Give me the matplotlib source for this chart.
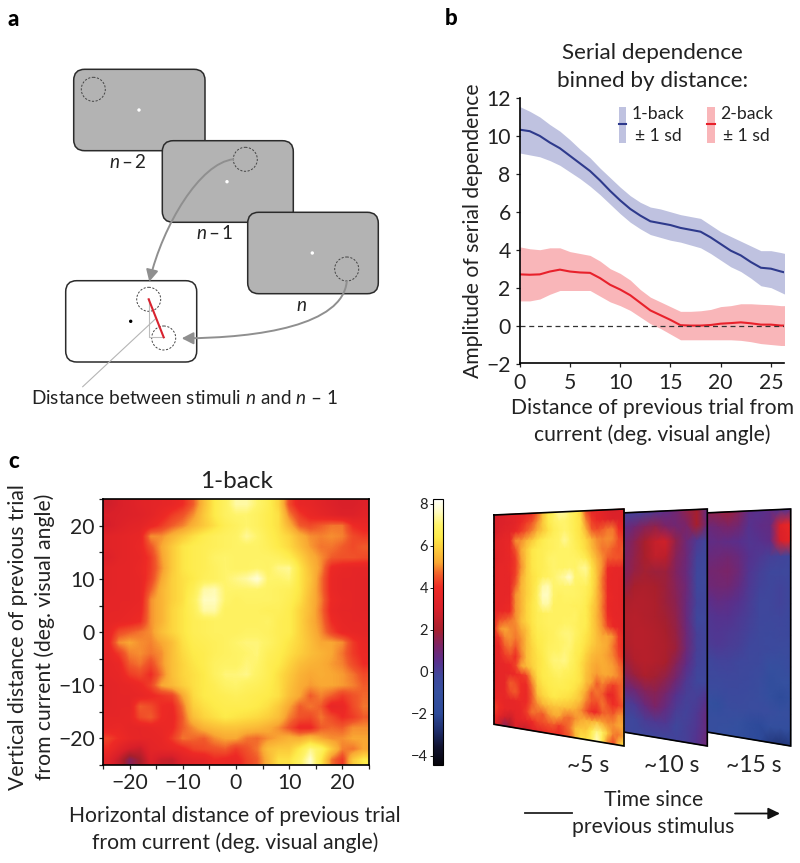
import matplotlib
matplotlib.use("Agg")
import matplotlib.pyplot as plt
import numpy as np
from matplotlib.colors import LinearSegmentedColormap, Normalize
from matplotlib.patches import Circle, FancyArrowPatch, FancyBboxPatch, Rectangle
from matplotlib.path import Path
from matplotlib.cm import ScalarMappable

plt.rcParams['font.family'] = ['Lato', 'DejaVu Sans']
plt.rcParams['mathtext.fontset'] = 'custom'
plt.rcParams['mathtext.rm'] = 'Lato'
plt.rcParams['mathtext.it'] = 'Lato:italic'

FIG_W = 800
FIG_H = 863
TEXT_COLOUR = '#222222'
FS = 15.2
FS_A = 13.6

# panel b
DISTANCE = [0, 1, 2, 3, 4, 5, 6, 7, 8, 9, 10, 11, 12, 13, 14, 15, 16, 17, 18, 19, 20, 21, 22, 23, 24, 25, 26, 26.4]
BACK1_MEAN = [10.33, 10.25, 10.0, 9.65, 9.35, 8.95, 8.55, 8.15, 7.65, 7.1, 6.6, 6.15, 5.8, 5.5, 5.4, 5.3, 5.15, 5.05, 4.95, 4.65, 4.3, 3.95, 3.7, 3.35, 3.05, 3.0, 2.85, 2.8]
BACK1_UPPER = [11.55, 11.3, 11.0, 10.6, 10.25, 9.8, 9.3, 8.85, 8.3, 7.8, 7.3, 6.85, 6.5, 6.25, 6.15, 6.0, 5.85, 5.75, 5.65, 5.3, 4.95, 4.7, 4.45, 4.2, 3.95, 3.95, 3.85, 3.8]
BACK1_LOWER = [9.1, 9.0, 8.9, 8.7, 8.45, 8.1, 7.75, 7.35, 6.9, 6.4, 5.9, 5.45, 5.1, 4.8, 4.65, 4.5, 4.4, 4.25, 4.1, 3.8, 3.45, 3.1, 2.85, 2.5, 2.1, 2.0, 1.75, 1.65]
BACK2_MEAN = [2.7, 2.68, 2.7, 2.85, 2.95, 2.85, 2.8, 2.78, 2.5, 2.15, 1.9, 1.6, 1.2, 0.8, 0.55, 0.3, 0.02, 0, 0, 0.03, 0.1, 0.13, 0.17, 0.12, 0.05, 0.05, 0, 0]
BACK2_UPPER = [4.15, 4.05, 4.0, 4.1, 4.1, 3.9, 3.8, 3.7, 3.4, 3.0, 2.75, 2.4, 1.9, 1.5, 1.25, 1.0, 0.75, 0.75, 0.78, 0.85, 1.0, 1.05, 1.15, 1.15, 1.12, 1.1, 1.05, 1.05]
BACK2_LOWER = [1.3, 1.3, 1.4, 1.65, 1.85, 1.85, 1.85, 1.85, 1.55, 1.25, 1.05, 0.8, 0.45, 0.1, -0.15, -0.45, -0.75, -0.75, -0.75, -0.75, -0.75, -0.75, -0.78, -0.85, -0.95, -1.0, -1.05, -1.05]

# panel c, 1-back map, rows from the top (+24) down, columns -24 to 24 in steps of 2
MAP_1BACK = [
    [2.8, 3.0, 3.2, 3.4, 3.5, 3.6, 3.7, 4.0, 4.6, 5.6, 6.4, 6.8, 7.4, 7.4, 7.0, 6.6, 6.0, 4.4, 3.7, 3.6, 3.4, 3.2, 3.0, 3.0, 3.2],
    [3.0, 3.1, 3.2, 3.3, 3.5, 3.8, 4.2, 4.5, 5.0, 5.8, 6.4, 6.8, 7.0, 7.0, 6.8, 6.5, 6.2, 4.9, 4.2, 3.8, 3.6, 3.4, 3.2, 3.2, 3.4],
    [2.9, 3.2, 3.4, 3.5, 3.8, 4.2, 4.6, 4.9, 5.4, 5.8, 6.2, 6.6, 6.8, 7.0, 6.8, 6.5, 6.2, 5.4, 4.6, 4.4, 4.6, 4.8, 4.8, 4.0, 3.8],
    [3.4, 3.5, 3.6, 3.7, 5.0, 5.0, 5.4, 5.8, 6.2, 6.5, 6.7, 6.8, 6.9, 7.3, 7.0, 6.6, 6.3, 6.0, 5.4, 5.0, 4.9, 5.0, 4.9, 4.4, 4.2],
    [3.4, 3.5, 3.6, 3.8, 4.5, 5.2, 5.8, 6.3, 6.5, 6.6, 6.7, 6.8, 6.9, 6.9, 6.9, 6.7, 6.4, 6.1, 5.6, 5.1, 4.8, 4.8, 4.6, 4.4, 4.6],
    [3.2, 3.5, 3.6, 3.7, 4.2, 5.1, 5.8, 6.3, 6.5, 6.6, 6.9, 7.0, 6.9, 6.9, 6.9, 6.9, 6.8, 6.5, 6.0, 5.4, 5.0, 4.6, 4.5, 4.5, 4.4],
    [3.5, 3.6, 3.6, 3.8, 4.2, 5.0, 5.8, 6.3, 6.5, 6.6, 6.8, 7.0, 6.9, 6.9, 7.0, 6.9, 7.2, 7.3, 6.3, 5.6, 5.0, 3.9, 3.7, 3.6, 3.6],
    [3.5, 3.6, 3.6, 3.7, 4.3, 5.2, 5.9, 6.2, 6.4, 6.7, 6.8, 7.0, 7.2, 7.4, 7.8, 7.0, 7.0, 7.1, 6.3, 5.7, 4.8, 3.8, 3.6, 3.6, 3.5],
    [3.5, 3.6, 3.6, 3.7, 4.6, 5.4, 5.9, 6.2, 6.6, 7.4, 7.5, 7.0, 7.0, 7.0, 7.0, 6.9, 6.8, 6.7, 6.3, 5.6, 4.8, 3.8, 3.6, 3.6, 3.5],
    [3.6, 3.6, 3.6, 3.7, 5.0, 5.4, 5.9, 6.2, 6.8, 7.6, 7.6, 7.0, 6.8, 6.9, 6.9, 6.9, 6.8, 6.6, 6.2, 5.5, 4.9, 3.9, 3.7, 3.6, 3.5],
    [3.6, 3.6, 3.7, 3.8, 5.0, 5.4, 6.0, 6.3, 6.7, 7.4, 7.4, 6.8, 6.8, 6.8, 6.8, 6.7, 6.7, 6.5, 6.0, 5.5, 4.8, 3.8, 3.6, 3.6, 3.5],
    [3.6, 3.7, 3.8, 4.0, 5.0, 5.4, 6.0, 6.3, 6.6, 6.7, 6.8, 6.8, 6.8, 6.8, 6.8, 6.9, 6.6, 6.5, 6.0, 5.4, 4.9, 4.0, 3.7, 3.6, 3.6],
    [3.7, 4.4, 4.6, 4.8, 5.0, 5.6, 6.0, 6.3, 6.6, 6.7, 6.8, 6.8, 6.8, 6.9, 6.9, 6.8, 6.6, 6.5, 6.0, 5.5, 5.0, 4.3, 3.8, 3.7, 3.6],
    [3.8, 5.0, 5.2, 5.0, 4.9, 5.2, 5.6, 6.2, 6.5, 6.6, 6.7, 6.8, 7.0, 7.1, 7.1, 6.9, 6.6, 6.3, 6.0, 5.6, 5.2, 5.2, 5.0, 4.2, 3.8],
    [3.7, 4.2, 4.9, 5.0, 4.8, 5.0, 5.6, 6.1, 6.4, 6.5, 6.7, 6.8, 6.9, 7.0, 7.1, 6.7, 6.5, 6.2, 5.9, 5.6, 5.4, 5.2, 4.8, 4.2, 3.9],
    [3.6, 3.8, 4.6, 4.8, 4.4, 5.0, 5.6, 6.0, 6.3, 6.5, 6.8, 6.9, 6.9, 7.1, 7.0, 6.6, 6.4, 6.0, 5.6, 5.4, 5.3, 5.1, 4.9, 4.4, 4.0],
    [3.6, 3.7, 4.2, 4.4, 4.0, 4.8, 5.6, 6.0, 6.2, 6.4, 6.8, 7.1, 7.1, 7.2, 6.9, 6.6, 6.2, 5.8, 5.4, 5.2, 5.3, 5.2, 5.1, 4.8, 4.4],
    [3.5, 3.6, 3.7, 3.9, 4.3, 5.2, 5.5, 5.9, 6.2, 6.4, 6.6, 6.9, 7.0, 6.8, 6.7, 6.5, 6.2, 5.7, 5.3, 5.1, 5.2, 5.2, 5.1, 4.9, 4.6],
    [3.5, 3.6, 3.6, 3.7, 3.9, 4.1, 4.3, 5.2, 6.1, 6.4, 6.5, 6.6, 6.7, 6.6, 6.5, 6.4, 6.2, 5.6, 5.2, 4.6, 4.9, 4.6, 4.2, 4.5, 4.7],
    [3.5, 3.6, 3.6, 4.6, 4.4, 4.0, 3.9, 4.8, 5.9, 6.2, 6.4, 6.5, 6.5, 6.5, 6.4, 6.2, 5.8, 5.2, 4.6, 4.8, 4.6, 3.7, 3.8, 4.4, 4.8],
    [3.6, 3.6, 3.7, 4.4, 4.6, 4.0, 3.8, 4.6, 5.6, 6.0, 6.2, 6.4, 6.3, 6.2, 6.1, 5.9, 5.6, 4.9, 4.5, 4.4, 4.8, 4.4, 4.0, 4.2, 4.6],
    [3.7, 3.8, 3.6, 3.6, 3.7, 3.8, 3.9, 4.6, 5.0, 5.4, 5.6, 5.7, 5.7, 5.6, 5.5, 5.3, 5.0, 4.5, 3.9, 3.9, 4.6, 4.7, 4.6, 5.0, 5.0],
    [4.3, 4.0, 3.7, 3.6, 3.6, 3.7, 4.2, 4.8, 4.7, 4.6, 5.0, 5.2, 5.2, 4.8, 4.7, 5.0, 5.2, 5.4, 5.3, 5.6, 5.2, 5.0, 5.0, 5.2, 5.2],
    [4.0, 3.4, 2.9, 2.7, 3.5, 3.6, 3.7, 3.9, 4.3, 4.4, 4.5, 4.6, 4.2, 4.5, 4.8, 5.6, 5.8, 5.8, 6.4, 7.2, 6.8, 5.8, 4.9, 4.8, 5.2],
    [3.4, 2.6, 1.4, 2.0, 3.2, 2.7, 2.6, 3.3, 3.5, 3.6, 4.0, 3.9, 3.8, 4.3, 4.6, 5.4, 6.2, 6.2, 6.8, 7.7, 6.4, 4.8, 4.2, 5.8, 6.4],
]

# visible right part of the ~10 s and ~15 s slices
MAP_10S = [
    [0.0, -0.1, 0.0, 0.3, 0.6, 1.0, 1.6, 2.0, 0.6],
    [0.6, 1.0, 1.4, 1.6, 1.2, 1.0, 1.2, 2.0, 0.8],
    [1.0, 1.5, 2.0, 2.6, 2.8, 1.6, 0.9, 0.2, -0.2],
    [1.2, 1.6, 2.0, 2.5, 2.4, 1.4, 0.9, -0.1, -0.3],
    [1.3, 1.7, 1.9, 1.8, 1.8, 1.3, 0.8, -0.2, -0.3],
    [1.6, 2.0, 2.1, 2.0, 1.8, 1.4, 0.9, -0.2, -0.3],
    [2.0, 2.2, 2.2, 2.1, 1.8, 1.5, 0.8, -0.1, -0.2],
    [2.2, 2.3, 2.2, 2.1, 1.9, 1.6, 0.8, -0.2, -0.2],
    [2.2, 2.3, 2.3, 2.2, 2.0, 1.7, 0.9, 0.0, -0.2],
    [2.1, 2.3, 2.3, 2.2, 2.1, 1.8, 0.9, 0.0, -0.2],
    [1.8, 2.2, 2.3, 2.2, 2.0, 1.4, 0.6, -0.1, -0.2],
    [1.4, 1.8, 2.1, 1.9, 1.6, 1.0, 0.2, -0.2, -0.2],
    [0.8, 1.0, 1.4, 1.5, 1.1, 0.4, 0.0, 0.0, 0.4],
    [0.0, 0.2, 0.8, 1.2, 0.7, 0.1, -0.1, 0.2, 0.8],
    [-0.2, -0.2, 0.1, 0.2, 0.2, -0.2, 0.0, 0.3, 0.8],
    [-0.2, -0.3, -0.3, -0.2, -0.2, -0.1, 0.0, 0.4, 1.0],
]
MAP_15S = [
    [1.5, 1.6, 1.8, 1.4, 0.6, 0.4, 0.6, 0.3, 0.4],
    [0.8, 1.0, 1.2, 1.0, 0.4, 0.6, 0.7, 3.2, 3.8],
    [0.6, 0.7, 0.6, 0.5, 0.3, 0.4, 0.6, 3.0, 3.6],
    [0.8, 0.9, 1.0, 0.8, 0.4, 0.2, 0.0, -0.1, -0.2],
    [1.0, 1.1, 1.2, 0.9, 0.3, 0.0, -0.2, -0.3, -0.3],
    [0.9, 1.0, 1.0, 0.7, 0.2, -0.1, -0.2, -0.1, -0.3],
    [0.5, 0.7, 0.6, 0.4, 0.1, -0.2, -0.2, -0.1, -0.3],
    [0.3, 0.4, 0.4, 0.2, 0.0, -0.2, -0.3, -0.2, -0.4],
    [0.2, 0.3, 0.2, 0.1, -0.1, -0.3, -0.4, -0.3, -0.4],
    [0.1, 0.2, 0.1, 0.0, -0.2, -0.3, -0.4, -0.5, -0.5],
    [-0.2, -0.1, -0.1, -0.2, -0.3, -0.4, -0.9, -0.8, -0.6],
    [-0.3, -0.3, -0.2, -0.3, -0.4, -0.6, -1.4, -1.0, -1.0],
    [-0.5, -0.5, -0.4, -0.4, -0.5, -0.7, -1.2, -1.9, -1.2],
    [-1.0, -1.4, -0.6, -0.5, -0.6, -0.6, -0.7, -0.9, -0.8],
    [-0.8, -0.8, -0.8, -1.0, -1.6, -2.0, -1.2, -1.3, -1.2],
    [-0.8, -0.9, -1.0, -1.2, -1.6, -2.0, -2.4, -2.6, -2.4],
]

CBAR_TICKS = [-4, -2, 0, 2, 4, 6, 8]
BACK_TICKS = [-20, -10, 0, 10, 20]
SLICE_LABELS = ['~5 s', '~10 s', '~15 s']

VMIN = -4.45
VMAX = 8.2
CMAP_STOPS = [(-4.45, '#05040a'), (-3.6, '#10122e'), (-2.9, '#1c2a66'), (-2.0, '#2d4a9a'), (-1.0, '#35509f'),
              (-0.2, '#3f479c'), (0.5, '#5a2f8c'), (1.2, '#7b2468'), (2.0, '#a81f2c'), (3.0, '#d9202a'),
              (4.0, '#ee2a25'), (4.6, '#f15a2a'), (5.2, '#f9a833'), (6.0, '#fdd43e'), (6.4, '#feeb4a'),
              (7.0, '#fff46a'), (7.6, '#fffcc0'), (8.2, '#ffffff')]


def ax_box(x0, y0, x1, y1):
    # pixel box from the top left corner to a figure axes
    return fig.add_axes([x0 / FIG_W, 1 - y1 / FIG_H, (x1 - x0) / FIG_W, (y1 - y0) / FIG_H])


def card(x0, y0, x1, y1, face):
    pad = 11
    canvas.add_patch(FancyBboxPatch((x0 + pad, y0 + pad), x1 - x0 - 2 * pad, y1 - y0 - 2 * pad,
                                    boxstyle='round,pad=%d,rounding_size=%d' % (pad, pad),
                                    facecolor=face, edgecolor='#2b2b2b', linewidth=1.1, zorder=2))


def ring(x, y):
    canvas.add_patch(Circle((x, y), 12, fill=False, edgecolor='#444444', linewidth=0.7,
                            linestyle=(0, (2.2, 1.6)), zorder=4))


def dot(x, y, colour):
    canvas.add_patch(Circle((x, y), 1.7, facecolor=colour, edgecolor='none', zorder=4))


def curve_arrow(points):
    codes = [Path.MOVETO, Path.CURVE4, Path.CURVE4, Path.CURVE4]
    canvas.add_patch(FancyArrowPatch(path=Path(points, codes), arrowstyle='-|>,head_length=7,head_width=3.6',
                                     color='#8f8f8f', linewidth=1.4, zorder=5, shrinkA=0, shrinkB=0))


def slanted_slice(values, x0, x1, z, closed=False):
    # slice drawn in perspective, from a pixel quad
    values = np.array(values)
    rows, cols = values.shape
    u = np.linspace(x0, x1, cols)
    v = np.linspace(0, 1, rows)
    t = (u - (x1 - SLICE_WIDTH)) / SLICE_WIDTH
    top = 515 - 6 * t
    bottom = 724.3 + 21.7 * t
    xx, vv = np.meshgrid(u, v)
    yy = top + vv * (bottom - top)
    canvas.pcolormesh(xx, yy, values, cmap=cmap, norm=norm, shading='gouraud', zorder=z)
    xs = [x0, x1, x1, x0]
    ys = [top[0], top[-1], bottom[-1], bottom[0]]
    if closed:
        xs.append(x0)
        ys.append(top[0])
    canvas.plot(xs, ys, color='black', linewidth=1.2, zorder=z + 0.1, solid_joinstyle='miter')


cmap = LinearSegmentedColormap.from_list(
    'serial', [((v - VMIN) / (VMAX - VMIN), c) for v, c in CMAP_STOPS], N=512)
norm = Normalize(VMIN, VMAX)

fig = plt.figure(figsize=(FIG_W / 100, FIG_H / 100), dpi=100)

canvas = fig.add_axes([0, 0, 1, 1])
canvas.set_xlim(0, FIG_W)
canvas.set_ylim(FIG_H, 0)
canvas.axis('off')

# panel letters
for letter, x, y in [('a', 13.5, 19), ('b', 450.7, 18.5), ('c', 14, 461)]:
    canvas.text(x, y, letter, fontsize=16, fontweight='black', color='black', ha='center', va='center')

# panel a
card(73.7, 69.3, 205, 150.7, '#b3b3b3')
card(162.3, 140.7, 293.3, 222.3, '#b3b3b3')
card(247.7, 212.3, 378.3, 293.7, '#b3b3b3')
card(65.7, 280.7, 196.7, 362, 'white')
dot(139, 110, 'white')
dot(227, 181.7, 'white')
dot(312.3, 253, 'white')
dot(130.7, 321.3, 'black')
for x, y in [(93.3, 89.3), (245.3, 159.3), (346.7, 269), (148.7, 299.3), (163.7, 338)]:
    ring(x, y)
canvas.plot([148.7, 148.7, 163.7], [299.5, 337.5, 337.5], color='#bdbdbd', linewidth=0.8, zorder=4)
canvas.plot([155, 82.7], [319.3, 386.7], color='#b5b5b5', linewidth=0.8, zorder=4)
canvas.plot([148.7, 163.7], [299.3, 337.3], color='#d8232f', linewidth=1.5, zorder=5)
curve_arrow([(233.3, 159.3), (200, 163), (163, 225), (149.3, 281.7)])
curve_arrow([(346.7, 282), (342, 325), (260, 338), (181.7, 338.3)])
canvas.text(127.3, 161.7, '$n$\u2009\u2013\u20092', fontsize=FS_A, color=TEXT_COLOUR, ha='center', va='center')
canvas.text(214.3, 233, '$n$\u2009\u2013\u20091', fontsize=FS_A, color=TEXT_COLOUR, ha='center', va='center')
canvas.text(301, 305, '$n$', fontsize=FS_A, color=TEXT_COLOUR, ha='center', va='center')
canvas.text(30.7, 398, 'Distance between stimuli $n$ and $n$ \u2013 1', fontsize=FS_A, color=TEXT_COLOUR,
            ha='left', va='center')

# panel b
ax_b = ax_box(519.7, 98, 784, 363.5)
ax_b.patch.set_alpha(0)
ax_b.fill_between(DISTANCE, BACK1_LOWER, BACK1_UPPER, color='#bfc2e0', linewidth=0)
ax_b.fill_between(DISTANCE, BACK2_LOWER, BACK2_UPPER, color='#f9b6b9', linewidth=0)
ax_b.plot(DISTANCE, BACK1_MEAN, color='#2e3a8c', linewidth=1.5)
ax_b.plot(DISTANCE, BACK2_MEAN, color='#e8212b', linewidth=1.5)
ax_b.axhline(0, color='#333333', linewidth=0.9, linestyle=(0, (4, 3)))
ax_b.set_xlim(0, 26.3)
ax_b.set_ylim(-2, 12)
ax_b.set_xticks([0, 5, 10, 15, 20, 25])
ax_b.set_yticks([-2, 0, 2, 4, 6, 8, 10, 12])
ax_b.set_yticklabels(['\u22122', '0', '2', '4', '6', '8', '10', '12'])
ax_b.tick_params(labelsize=FS, colors=TEXT_COLOUR, length=3, width=0.9, pad=3.5)
ax_b.spines['top'].set_visible(False)
ax_b.spines['right'].set_visible(False)
for side in ['left', 'bottom']:
    ax_b.spines[side].set_linewidth(1.2)
canvas.text(652.7, 53, 'Serial dependence', fontsize=16.2, color=TEXT_COLOUR, ha='center', va='center')
canvas.text(652.7, 81, 'binned by distance:', fontsize=16.2, color=TEXT_COLOUR, ha='center', va='center')
canvas.text(473, 231, 'Amplitude of serial dependence', fontsize=FS, color=TEXT_COLOUR, rotation=90,
            ha='center', va='center')
canvas.text(652.7, 408, 'Distance of previous trial from', fontsize=FS, color=TEXT_COLOUR, ha='center', va='center')
canvas.text(652.7, 435, 'current (deg. visual angle)', fontsize=FS, color=TEXT_COLOUR, ha='center', va='center')

# legend of panel b
canvas.set_zorder(3)
canvas.patch.set_alpha(0)
for x, band, line, name in [(619, '#bfc2e0', '#2e3a8c', '1-back'), (707.3, '#f9b6b9', '#e8212b', '2-back')]:
    canvas.add_patch(Rectangle((x, 106.7), 7.2, 36, facecolor=band, edgecolor='none', zorder=2))
    canvas.plot([x, x + 7.2], [124, 124], color=line, linewidth=1.5, zorder=3)
    canvas.text(x + 39, 114, name, fontsize=12.6, color=TEXT_COLOUR, ha='center', va='center')
    canvas.text(x + 39, 136, '\u00b1 1 sd', fontsize=12.6, color=TEXT_COLOUR, ha='center', va='center')

# panel c, main map
ax_c = ax_box(103.3, 499.3, 368.7, 765)
ax_c.imshow(MAP_1BACK, cmap=cmap, norm=norm, extent=[-25, 25, -25, 25], interpolation='bilinear', aspect='auto')
ax_c.set_xticks(np.arange(-25, 26, 5), minor=True)
ax_c.set_yticks(np.arange(-25, 26, 5), minor=True)
ax_c.set_xticks(BACK_TICKS)
ax_c.set_yticks(BACK_TICKS)
ax_c.set_xticklabels(['\u221220', '\u221210', '0', '10', '20'])
ax_c.set_yticklabels(['\u221220', '\u221210', '0', '10', '20'])
ax_c.tick_params(which='both', length=3, width=0.9, colors=TEXT_COLOUR, labelsize=FS, pad=3)
for side in ax_c.spines:
    ax_c.spines[side].set_linewidth(1.2)
canvas.text(236, 481, '1-back', fontsize=17.5, color=TEXT_COLOUR, ha='center', va='center')
canvas.text(18, 636.7, 'Vertical distance of previous trial', fontsize=FS, color=TEXT_COLOUR, rotation=90,
            ha='center', va='center')
canvas.text(45, 636.7, 'from current (deg. visual angle)', fontsize=FS, color=TEXT_COLOUR, rotation=90,
            ha='center', va='center')
canvas.text(235, 815.7, 'Horizontal distance of previous trial', fontsize=FS, color=TEXT_COLOUR,
            ha='center', va='center')
canvas.text(235, 842.7, 'from current (deg. visual angle)', fontsize=FS, color=TEXT_COLOUR,
            ha='center', va='center')

# colour bar
ax_cb = ax_box(432.7, 499.3, 443.3, 765)
cb = fig.colorbar(ScalarMappable(norm=norm, cmap=cmap), cax=ax_cb, ticks=CBAR_TICKS)
cb.ax.yaxis.set_ticks_position('left')
cb.ax.set_yticklabels(['\u22124', '\u22122', '0', '2', '4', '6', '8'])
cb.ax.tick_params(labelsize=10.5, colors=TEXT_COLOUR, length=2, width=0.7, pad=1.5)
cb.outline.set_linewidth(0.8)

# slices over time
SLICE_WIDTH = 130
slanted_slice(MAP_15S, 707.3, 790.7, 1)
slanted_slice(MAP_10S, 624, 707.3, 1.5)
slanted_slice(MAP_1BACK, 494, 624, 2, closed=True)
for label, x in zip(SLICE_LABELS, [588.3, 671.7, 754]):
    canvas.text(x, 765, label, fontsize=16.5, color=TEXT_COLOUR, ha='center', va='center')
canvas.text(653.3, 800, 'Time since', fontsize=FS, color=TEXT_COLOUR, ha='center', va='center')
canvas.text(653.3, 826.7, 'previous stimulus', fontsize=FS, color=TEXT_COLOUR, ha='center', va='center')
canvas.plot([525, 571.7], [813.3, 813.3], color='#222222', linewidth=1.3)
canvas.add_patch(FancyArrowPatch((735, 813.5), (780, 813.5), arrowstyle='-|>,head_length=7,head_width=3.4',
                                 color='#111111', linewidth=1.3, shrinkA=0, shrinkB=0))

fig.savefig('out.png', dpi=100)
